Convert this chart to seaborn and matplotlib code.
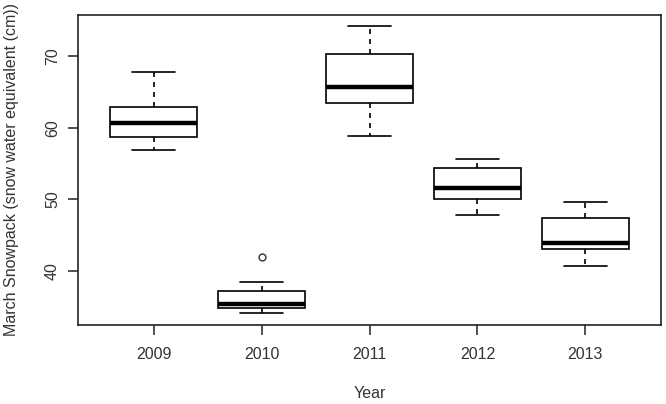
import pandas as pd
import matplotlib
matplotlib.use("Agg")
import matplotlib.pyplot as plt
import seaborn as sns

# snowpack observations per year (cm, snow water equivalent)
years = ["2009", "2010", "2011", "2012", "2013"]
swe_2009 = [56.9, 57.8, 58.7, 59.8, 60.7, 61.9, 63.0, 65.4, 67.8]
swe_2010 = [34.1, 34.5, 34.8, 35.1, 35.35, 36.3, 37.15, 38.45, 41.95]
swe_2011 = [58.9, 61.2, 63.45, 64.6, 65.8, 68.1, 70.35, 72.3, 74.2]
swe_2012 = [47.8, 48.9, 50.0, 50.8, 51.55, 53.0, 54.4, 55.0, 55.65]
swe_2013 = [40.7, 41.9, 43.1, 43.5, 43.95, 45.7, 47.35, 48.5, 49.6]
y_ticks = [40, 50, 60, 70]

rows = []
for yr, vals in zip(years, [swe_2009, swe_2010, swe_2011, swe_2012, swe_2013]):
    for v in vals:
        rows.append({"Year": yr, "swe": v})
df = pd.DataFrame(rows)

sns.set_style("white")
plt.rcParams["font.family"] = ["Liberation Sans", "DejaVu Sans"]
text_color = "#333333"

fig = plt.figure(figsize=(6.66, 4.04), dpi=100)
ax = fig.add_axes([78 / 666, 1 - 325 / 404, 583 / 666, 310 / 404])

sns.boxplot(
    data=df, x="Year", y="swe", order=years, ax=ax,
    color="white", linecolor="black", linewidth=1.2, width=0.8,
    whis=1.5,
    whiskerprops=dict(linestyle=(0, (3, 3))),
    medianprops=dict(linewidth=3.2, color="black"),
    flierprops=dict(marker="o", markersize=5, markerfacecolor="none",
                    markeredgecolor="#333333", markeredgewidth=1.0),
)

ax.set_xlim(-0.7, 4.7)
ax.set_ylim(32.45, 75.8)
ax.set_yticks(y_ticks)
ax.set_xlabel("")
ax.set_ylabel("")

for side in ["left", "right", "top", "bottom"]:
    ax.spines[side].set_visible(True)
    ax.spines[side].set_color("#222222")
    ax.spines[side].set_linewidth(1.2)

ax.tick_params(axis="both", direction="out", length=7, width=1.1,
               color="#222222", labelsize=11.5, labelcolor=text_color)
ax.tick_params(axis="x", pad=9, bottom=True)
ax.tick_params(axis="y", pad=6, left=True)
for lab in ax.get_yticklabels():
    lab.set_rotation(90)
    lab.set_va("center")

fig.text(370 / 666, 1 - 394 / 404, "Year", ha="center", va="center",
         fontsize=11.5, color=text_color)
fig.text(12 / 666, 1 - 170 / 404, "March Snowpack (snow water equivalent (cm))",
         rotation=90, ha="center", va="center", fontsize=11.5, color=text_color)

fig.savefig("out.png", dpi=100)
plt.close(fig)
